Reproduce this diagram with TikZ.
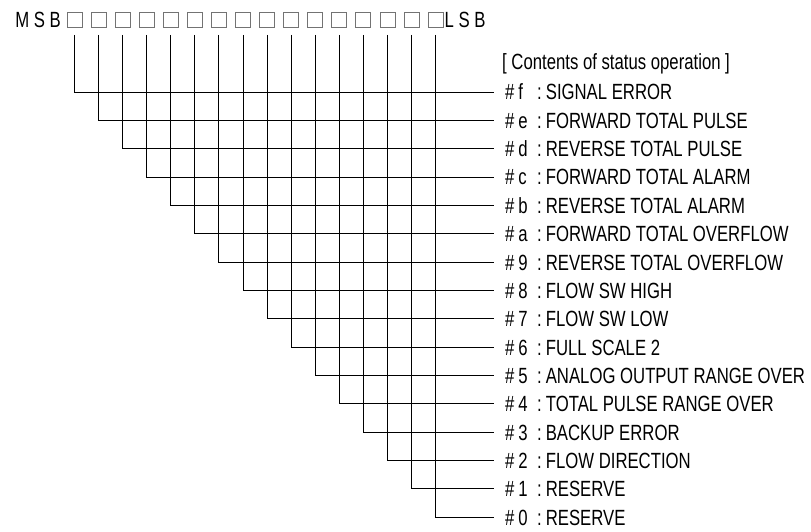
\documentclass[tikz,border=0pt]{standalone}
\usepackage{fontspec}
\setmainfont{Liberation Sans}[FakeStretch=0.76]
\newcommand{\labfont}{\fontsize{22}{26}\selectfont}
\begin{document}
\begin{tikzpicture}[x=1pt,y=-1pt,
  bitbox/.style={draw=black!55, line width=0.8pt, minimum size=15pt, inner sep=0pt},
  wire/.style={line width=0.9pt, draw=black},
  lbl/.style={anchor=west, inner sep=0pt, text height=15.8pt, text depth=0pt, font=\labfont}]
\useasboundingbox (0,0) rectangle (811,532);
\foreach \i in {0,...,15} \node[bitbox] (b\i) at ({74.5+\i*24.07},19.5) {};
\node[anchor=east, inner sep=0pt, text height=15.8pt, text depth=0pt, font=\labfont] (msb) at (61,19.5) {M S B};
\node[anchor=west, inner sep=0pt, text height=15.8pt, text depth=0pt, font=\labfont] (lsb) at ([xshift=1pt]b15.east) {L S B};
\node[lbl] (head) at (502,62) {[ Contents of status operation ]};
\foreach \i/\c/\t in {0/f/SIGNAL ERROR, 1/e/FORWARD TOTAL PULSE, 2/d/REVERSE TOTAL PULSE,
  3/c/FORWARD TOTAL ALARM, 4/b/REVERSE TOTAL ALARM, 5/a/FORWARD TOTAL OVERFLOW,
  6/9/REVERSE TOTAL OVERFLOW, 7/8/FLOW SW HIGH, 8/7/FLOW SW LOW, 9/6/FULL SCALE 2,
  10/5/ANALOG OUTPUT RANGE OVER, 11/4/TOTAL PULSE RANGE OVER, 12/3/BACKUP ERROR,
  13/2/FLOW DIRECTION, 14/1/RESERVE, 15/0/RESERVE}
{
  \node[lbl] (l\i) at (505,{92+\i*28.35}) {\makebox[32pt][l]{\#\hspace{4pt}\c}:\hspace{4pt}\t};
  \draw[wire, shorten <=7.5pt, shorten >=11pt] (b\i.south) |- (l\i.west);
}
\end{tikzpicture}
\end{document}
